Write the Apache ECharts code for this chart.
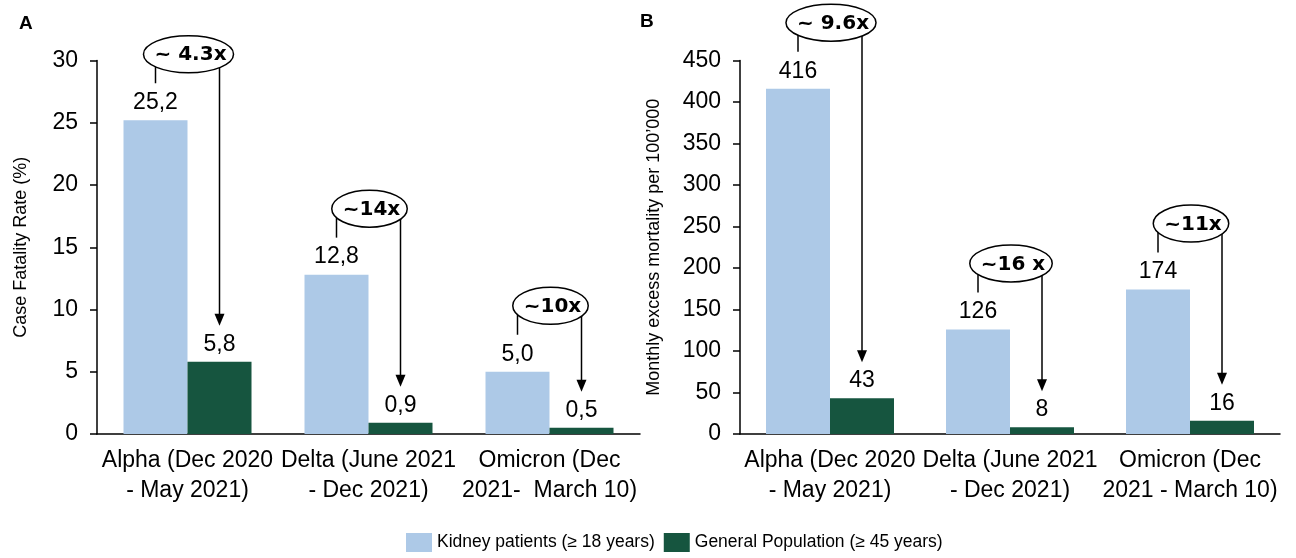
<!DOCTYPE html>
<html><head><meta charset="utf-8">
<script src="https://cdn.jsdelivr.net/npm/echarts@6/dist/echarts.min.js"></script>
<style>html,body{margin:0;padding:0;background:#fff}#c{width:1296px;height:558px}</style>
</head><body><div id="c"></div>
<script>
// ---- data ----
const categoriesA = ['Alpha (Dec 2020\n- May 2021)', 'Delta (June 2021\n- Dec 2021)', 'Omicron (Dec\n2021-  March 10)'];
const categoriesB = ['Alpha (Dec 2020\n- May 2021)', 'Delta (June 2021\n- Dec 2021)', 'Omicron (Dec\n2021 - March 10)'];
const kidneyA = [25.2, 12.8, 5.0];
const generalA = [5.8, 0.9, 0.5];
const kidneyB = [416, 126, 174];
const generalB = [43, 8, 16];
const ratioA = ['~ 4.3x', '~14x', '~10x'];
const ratioB = ['~ 9.6x', '~16 x', '~11x'];
const seriesNames = ['Kidney patients (\u2265 18 years)', 'General Population (\u2265 45 years)'];
const axisTitleA = 'Case Fatality Rate (%)';
const axisTitleB = 'Monthly excess mortality per 100\u2019000';

// ---- style ----
const BLUE = '#adc9e7', GREEN = '#16553f';
const SANS = "'Liberation Sans',Arial,sans-serif";
const BAR_W = 64;

const mctx = document.createElement('canvas').getContext('2d');
function hasFont(name) {
  const s = 'Alpha (Dec 2020) mmmWWWiii';
  mctx.font = '40px monospace';
  const a = mctx.measureText(s).width;
  mctx.font = "40px '" + name + "', monospace";
  return Math.abs(mctx.measureText(s).width - a) > 0.5;
}
const narrowOK = hasFont('Liberation Sans Narrow');
const XLAB_FONT = narrowOK ? "'Liberation Sans Narrow',sans-serif" : SANS;
const XLAB_SIZE = narrowOK ? 27 : 23;

const chart = echarts.init(document.getElementById('c'), null, {renderer: 'canvas'});

function yAxis(grid, max, interval, name, gap) {
  return {
    type: 'value', gridIndex: grid, min: 0, max: max, interval: interval,
    name: name, nameLocation: 'middle', nameRotate: 90, nameGap: gap,
    nameTextStyle: {fontFamily: SANS, fontSize: 18, color: '#000'},
    axisLine: {show: true, lineStyle: {color: '#000', width: 1.5}},
    axisTick: {show: true, length: 7, lineStyle: {color: '#000', width: 1.5}},
    axisLabel: {fontFamily: SANS, fontSize: 23, color: '#000', margin: 19},
    splitLine: {show: false}
  };
}
function xAxis(grid, cats) {
  return {
    type: 'category', gridIndex: grid, data: cats,
    axisLine: {lineStyle: {color: '#000', width: 1.5}},
    axisTick: {show: false},
    axisLabel: {interval: 0, fontFamily: XLAB_FONT, fontSize: XLAB_SIZE, lineHeight: 30, color: '#000', margin: 12}
  };
}
function bars(name, data, color, idx, fmt) {
  return {
    name: name, type: 'bar', xAxisIndex: idx, yAxisIndex: idx, data: data,
    barWidth: BAR_W, barGap: '0%', itemStyle: {color: color},
    label: {show: true, position: 'top', distance: 6, fontFamily: SANS, fontSize: 23, color: '#000', formatter: fmt}
  };
}
const fmtA = p => p.value.toFixed(1).replace('.', ',');
const fmtB = p => String(p.value);

chart.setOption({
  animation: false,
  backgroundColor: '#fff',
  title: [
    {text: 'A', left: 14, top: 9, textStyle: {fontFamily: SANS, fontSize: 19, fontWeight: 'bold', color: '#000'}},
    {text: 'B', left: 635, top: 7, textStyle: {fontFamily: SANS, fontSize: 19, fontWeight: 'bold', color: '#000'}}
  ],
  legend: {
    data: seriesNames, left: 401, top: 528, itemWidth: 26, itemHeight: 19, itemGap: 9,
    icon: 'rect', textStyle: {fontFamily: SANS, fontSize: 17.5, color: '#000'}
  },
  grid: [
    {left: 97, right: 656, top: 60.5, bottom: 124},
    {left: 740, right: 16, top: 60.5, bottom: 124}
  ],
  xAxis: [xAxis(0, categoriesA), xAxis(1, categoriesB)],
  yAxis: [yAxis(0, 30, 5, axisTitleA, 67), yAxis(1, 450, 50, axisTitleB, 77)],
  series: [
    bars(seriesNames[0], kidneyA, BLUE, 0, fmtA),
    bars(seriesNames[1], generalA, GREEN, 0, fmtA),
    bars(seriesNames[0], kidneyB, BLUE, 1, fmtB),
    bars(seriesNames[1], generalB, GREEN, 1, fmtB)
  ]
});

// ---- annotations (ellipse + bracket + arrow) ----
const ELL_FONT = "'DejaVu Sans',sans-serif";
mctx.font = 'bold 20px ' + ELL_FONT;
const graphics = [];
function annotate(idx, kidney, general, ratios) {
  kidney.forEach((kv, i) => {
    const pb = chart.convertToPixel({xAxisIndex: idx, yAxisIndex: idx}, [i, kv]);
    const pg = chart.convertToPixel({xAxisIndex: idx, yAxisIndex: idx}, [i, general[i]]);
    const cx = pb[0], topB = pb[1], topG = pg[1];
    const xl = cx - BAR_W / 2, xr = cx + BAR_W / 2;
    const ey = topB - 66, ex = cx + 1;
    const tw = mctx.measureText(ratios[i]).width;
    const rx = tw / 2 + 9, ry = 18.5;
    const ln = {stroke: '#000', lineWidth: 1.5};
    graphics.push({type: 'line', shape: {x1: xl, y1: ey, x2: xl, y2: topB - 37}, style: ln, z: 10});
    graphics.push({type: 'line', shape: {x1: xr, y1: ey, x2: xr, y2: topG - 46}, style: ln, z: 10});
    graphics.push({type: 'polygon', shape: {points: [[xr - 5, topG - 48], [xr + 5, topG - 48], [xr, topG - 36]]}, style: {fill: '#000'}, z: 10});
    graphics.push({type: 'ellipse', shape: {cx: ex, cy: ey, rx: rx, ry: ry}, style: {fill: '#fff', stroke: '#000', lineWidth: 1.5}, z: 20});
    graphics.push({type: 'text', x: ex + 2, y: ey + 1, style: {text: ratios[i], fontFamily: ELL_FONT, fontSize: 20, fontWeight: 'bold', fill: '#000', align: 'center', verticalAlign: 'middle'}, z: 30});
  });
}
annotate(0, kidneyA, generalA, ratioA);
annotate(1, kidneyB, generalB, ratioB);
chart.setOption({graphic: graphics});
</script></body></html>
